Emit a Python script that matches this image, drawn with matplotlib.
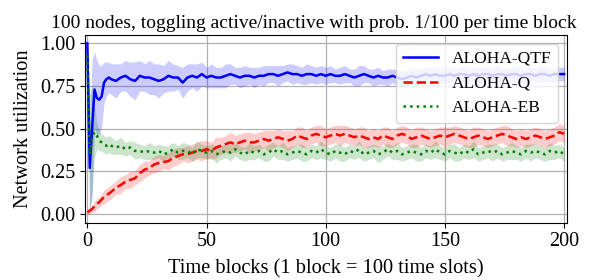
import matplotlib
matplotlib.use("Agg")
import matplotlib.pyplot as plt
import numpy as np

plt.rcParams['font.family'] = ['Liberation Serif', 'DejaVu Serif']
plt.rcParams['mathtext.fontset'] = 'stix'

time_blocks = list(range(10)) + list(range(10, 201, 2))

qtf_mean = [1.00, 0.27, 0.50, 0.73, 0.68, 0.67, 0.69, 0.77, 0.79, 0.80,
            0.79, 0.78, 0.80, 0.81, 0.79, 0.78, 0.81, 0.80, 0.80, 0.79,
            0.78, 0.79, 0.81, 0.80, 0.80, 0.77, 0.80, 0.81, 0.80, 0.82,
            0.80, 0.81, 0.80, 0.80, 0.81, 0.82, 0.81, 0.80, 0.81, 0.81,
            0.80, 0.81, 0.81, 0.82, 0.82, 0.81, 0.82, 0.83, 0.82, 0.82,
            0.81, 0.82, 0.82, 0.81, 0.82, 0.81, 0.82, 0.81, 0.81, 0.82,
            0.81, 0.80, 0.81, 0.82, 0.81, 0.80, 0.81, 0.80, 0.80, 0.81,
            0.80, 0.79, 0.80, 0.81, 0.80, 0.81, 0.82, 0.81, 0.82, 0.81,
            0.81, 0.82, 0.81, 0.82, 0.82, 0.81, 0.82, 0.81, 0.82, 0.82,
            0.81, 0.82, 0.82, 0.81, 0.82, 0.82, 0.81, 0.82, 0.82, 0.81,
            0.82, 0.82, 0.81, 0.82, 0.82, 0.82]
qtf_err = [0.00, 0.25, 0.40, 0.22, 0.22, 0.20, 0.18, 0.12, 0.10, 0.09,
           0.09, 0.10, 0.08, 0.09, 0.10, 0.11, 0.09, 0.08, 0.10, 0.09,
           0.10, 0.08, 0.09, 0.08, 0.07, 0.09, 0.08, 0.07, 0.08, 0.07,
           0.06, 0.07, 0.06, 0.06, 0.07, 0.06, 0.05, 0.06, 0.06, 0.05,
           0.06, 0.05, 0.06, 0.05, 0.05, 0.06, 0.05, 0.05, 0.06, 0.05,
           0.05, 0.06, 0.05, 0.05, 0.05,
           0.05, 0.05, 0.04, 0.05, 0.05, 0.04, 0.05, 0.06, 0.05, 0.04,
           0.05, 0.05, 0.04, 0.05, 0.04, 0.05, 0.05, 0.04, 0.05, 0.05,
           0.04, 0.04, 0.05, 0.04, 0.04, 0.05, 0.04, 0.04, 0.04, 0.05,
           0.04, 0.04, 0.05, 0.04, 0.04, 0.04, 0.05, 0.04, 0.04, 0.04,
           0.05, 0.04, 0.04, 0.04, 0.04, 0.05, 0.04, 0.04, 0.04, 0.04,
           0.04]

q_mean = [0.01, 0.02, 0.03, 0.045, 0.06, 0.07, 0.085, 0.10, 0.11, 0.12,
          0.13, 0.155, 0.17, 0.19, 0.20, 0.21, 0.24, 0.26, 0.27, 0.29,
          0.30, 0.305, 0.31, 0.33, 0.34, 0.35, 0.35, 0.36, 0.37, 0.37,
          0.38, 0.37, 0.39, 0.40, 0.41, 0.42, 0.41, 0.42, 0.43, 0.42,
          0.42, 0.43, 0.44, 0.43, 0.44, 0.45, 0.44, 0.43, 0.44, 0.46,
          0.45, 0.44, 0.46, 0.47, 0.46, 0.45, 0.46, 0.47, 0.46, 0.47,
          0.46, 0.45, 0.46, 0.45, 0.44, 0.45, 0.44, 0.46, 0.45, 0.44,
          0.46, 0.47, 0.46, 0.44, 0.45, 0.46, 0.45, 0.44, 0.45, 0.46,
          0.45, 0.46, 0.47, 0.46, 0.45, 0.44, 0.45, 0.46, 0.45, 0.44,
          0.45, 0.46, 0.47, 0.46, 0.45, 0.44, 0.45, 0.44, 0.45, 0.46,
          0.45, 0.44, 0.45, 0.46, 0.48, 0.47]
q_err = [0.01, 0.02, 0.02, 0.03, 0.03, 0.03, 0.03, 0.04, 0.04, 0.04,
         0.04, 0.04, 0.05, 0.04, 0.05, 0.04, 0.05, 0.05, 0.04, 0.05,
         0.05, 0.04, 0.05, 0.05, 0.05, 0.04, 0.05, 0.05, 0.05, 0.06,
         0.05, 0.05, 0.06, 0.05, 0.05, 0.06, 0.05, 0.05, 0.05, 0.06,
         0.05, 0.05, 0.05, 0.06, 0.05, 0.05, 0.05, 0.06, 0.05, 0.05,
         0.06, 0.05, 0.05, 0.05, 0.06, 0.05, 0.05, 0.05, 0.06, 0.05,
         0.05, 0.05, 0.05, 0.06, 0.05, 0.05, 0.05, 0.05, 0.06, 0.05,
         0.05, 0.05, 0.05, 0.05, 0.06, 0.05, 0.05, 0.05, 0.05, 0.05,
         0.06, 0.05, 0.05, 0.05, 0.05, 0.05, 0.06, 0.05, 0.05, 0.05,
         0.05, 0.05, 0.05, 0.06, 0.05, 0.05, 0.05, 0.05, 0.05, 0.05,
         0.05, 0.05, 0.05, 0.05, 0.05, 0.05]

eb_mean = [0.93, 0.35, 0.45, 0.48, 0.46, 0.43, 0.42, 0.41, 0.40, 0.41,
           0.40, 0.39, 0.40, 0.38, 0.39, 0.37, 0.37, 0.36, 0.37, 0.36,
           0.37, 0.35, 0.36, 0.38, 0.36, 0.37, 0.37, 0.35, 0.38, 0.37,
           0.36, 0.37, 0.35, 0.36, 0.37, 0.36, 0.38, 0.36, 0.35, 0.37,
           0.36, 0.37, 0.35, 0.36, 0.38, 0.36, 0.37, 0.35, 0.36, 0.37,
           0.36, 0.35, 0.37, 0.36, 0.38, 0.36, 0.35, 0.37, 0.36, 0.35,
           0.37, 0.36, 0.38, 0.35, 0.36, 0.37, 0.35, 0.36, 0.38, 0.36,
           0.37, 0.35, 0.36, 0.37, 0.36, 0.35, 0.37, 0.36, 0.38, 0.36,
           0.35, 0.37, 0.36, 0.35, 0.37, 0.36, 0.38, 0.35, 0.36, 0.37,
           0.36, 0.37, 0.35, 0.36, 0.37, 0.36, 0.35, 0.37, 0.36, 0.37,
           0.36, 0.35, 0.37, 0.36, 0.37, 0.35]
eb_err = [0.03, 0.35, 0.30, 0.15, 0.08, 0.06, 0.05, 0.05, 0.05, 0.05,
          0.05, 0.04, 0.05, 0.04, 0.04, 0.05, 0.04, 0.04, 0.05, 0.04,
          0.04, 0.05, 0.04, 0.04, 0.04, 0.05, 0.04, 0.04, 0.05, 0.04,
          0.04, 0.04, 0.05, 0.04, 0.04, 0.05, 0.04, 0.04, 0.04, 0.05,
          0.04, 0.04, 0.04, 0.05, 0.04, 0.04, 0.05, 0.04, 0.04, 0.04,
          0.05, 0.04, 0.04, 0.04, 0.05, 0.04, 0.04, 0.04, 0.05, 0.04,
          0.04, 0.04, 0.05, 0.04, 0.04, 0.04, 0.05, 0.04, 0.04, 0.04,
          0.05, 0.04, 0.04, 0.04, 0.05, 0.04, 0.04, 0.04, 0.05, 0.04,
          0.04, 0.04, 0.05, 0.04, 0.04, 0.04, 0.05, 0.04, 0.04, 0.04,
          0.05, 0.04, 0.04, 0.04, 0.05, 0.04, 0.04, 0.04, 0.05, 0.04,
          0.04, 0.04, 0.05, 0.04, 0.04, 0.04]

series = [
    ("ALOHA-QTF", qtf_mean, qtf_err, "b", "-"),
    ("ALOHA-Q", q_mean, q_err, "r", "--"),
    ("ALOHA-EB", eb_mean, eb_err, "g", ":"),
]

fig = plt.figure(figsize=(6.03, 2.8), dpi=100)
ax = fig.add_axes([0.1405, 0.2025, 0.7993, 0.6725])

x = np.array(time_blocks)
for name, m, e, c, ls in series:
    m = np.array(m); e = np.array(e)
    assert len(m) == len(x) and len(e) == len(x), name
    ax.fill_between(x, m - e, m + e, color=c, alpha=0.2, linewidth=0)
for name, m, e, c, ls in series:
    ax.plot(x, m, color=c, linestyle=ls, linewidth=1.8, label=name)

ax.set_xlim(-1.1, 201.1)
ax.set_ylim(-0.054, 1.049)
ax.set_xticks([0, 50, 100, 150, 200])
ax.set_yticks([0.0, 0.25, 0.5, 0.75, 1.0])
ax.set_yticklabels(["0.00", "0.25", "0.50", "0.75", "1.00"])
ax.grid(True, color="#b0b0b0", linewidth=0.9)
ax.set_axisbelow(True)
ax.tick_params(labelsize=14.5, pad=3)
ax.set_xlabel("Time blocks (1 block = 100 time slots)", fontsize=14.7, labelpad=6)
ax.set_ylabel("Network utilization", fontsize=14.7, labelpad=5)
ax.set_title("100 nodes, toggling active/inactive with prob. 1/100 per time block",
             fontsize=14, pad=5, x=0.475)
ax.legend(loc="upper right", fontsize=12.5, framealpha=0.8)

fig.savefig("out.png", dpi=100)
